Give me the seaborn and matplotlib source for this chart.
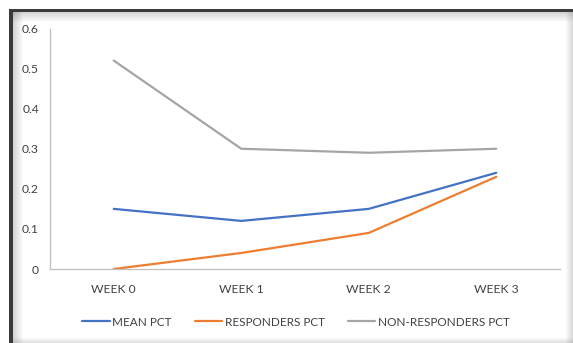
import matplotlib
matplotlib.use("Agg")
import matplotlib.pyplot as plt
from matplotlib.patches import Rectangle
import seaborn as sns
import pandas as pd

weeks = ["WEEK 0", "WEEK 1", "WEEK 2", "WEEK 3"]
mean_pct = [0.15, 0.12, 0.15, 0.24]
responders_pct = [0.0, 0.04, 0.09, 0.23]
non_responders_pct = [0.52, 0.30, 0.29, 0.30]
series_names = ["MEAN PCT", "RESPONDERS PCT", "NON-RESPONDERS PCT"]
y_ticks = [0, 0.1, 0.2, 0.3, 0.4, 0.5, 0.6]
y_tick_labels = ["0", "0.1", "0.2", "0.3", "0.4", "0.5", "0.6"]

rows = []
for name, vals in zip(series_names, [mean_pct, responders_pct, non_responders_pct]):
    for w, v in zip(weeks, vals):
        rows.append({"week": w, "value": v, "series": name})
df = pd.DataFrame(rows)

sns.set_theme(style="white")
plt.rcParams["font.family"] = ["Lato", "DejaVu Sans"]

W, H = 573, 343
fig = plt.figure(figsize=(W / 100, H / 100), dpi=100)
fig.patch.set_facecolor("white")

# frame decoration (dark top/left edge with inner shadow, light right/bottom shading)
def px_rect(x0, y0, x1, y1, color, alpha=1.0):
    fig.patches.append(Rectangle((x0 / W, 1 - y1 / H), (x1 - x0) / W, (y1 - y0) / H,
                                 transform=fig.transFigure, facecolor=color,
                                 edgecolor="none", alpha=alpha, zorder=0))

for i in range(10):
    a = 0.28 * (1 - i / 10)
    px_rect(13 + i, 12, 14 + i, 343, "#000000", a * 0.6)
    px_rect(13, 12 + i, 573, 13 + i, "#000000", a * 0.6)
for i in range(7):
    a = 0.05 + 0.04 * i
    px_rect(566 + i, 12, 567 + i, 343, "#808080", a)
for i in range(5):
    a = 0.05 + 0.05 * i
    px_rect(13, 338 + i, 573, 339 + i, "#808080", a)
px_rect(9, 9, 573, 12, "#3a3a3a")
px_rect(9, 9, 13, 343, "#3a3a3a")

ax = fig.add_axes([50 / W, 74 / H, 510 / W, (269 - 28.5) / H])
palette = {"MEAN PCT": "#4472C4", "RESPONDERS PCT": "#ED7D31", "NON-RESPONDERS PCT": "#A5A5A5"}
sns.lineplot(data=df, x="week", y="value", hue="series", palette=palette,
             linewidth=1.6, ax=ax, sort=False)

ax.set_xlim(-0.5, 3.5)
ax.set_ylim(0, 0.6)
ax.set_yticks(y_ticks)
ax.set_yticklabels(y_tick_labels)
ax.set_xlabel("")
ax.set_ylabel("")
ax.set_facecolor("none")
for s in ["top", "right"]:
    ax.spines[s].set_visible(False)
for s in ["left", "bottom"]:
    ax.spines[s].set_color("#BFBFBF")
    ax.spines[s].set_linewidth(0.9)
ax.tick_params(axis="both", length=0, labelsize=8.7, labelcolor="#404040")
ax.tick_params(axis="y", pad=8)
ax.tick_params(axis="x", pad=11)

leg = ax.legend(loc="center", bbox_to_anchor=(296 / W, 1 - 322 / H),
                bbox_transform=fig.transFigure, ncol=3, frameon=False,
                fontsize=8.5, handlelength=2.3, handletextpad=0.2, columnspacing=2.0,
                labelcolor="#404040")

fig.savefig("out.png", dpi=100, facecolor="white")
